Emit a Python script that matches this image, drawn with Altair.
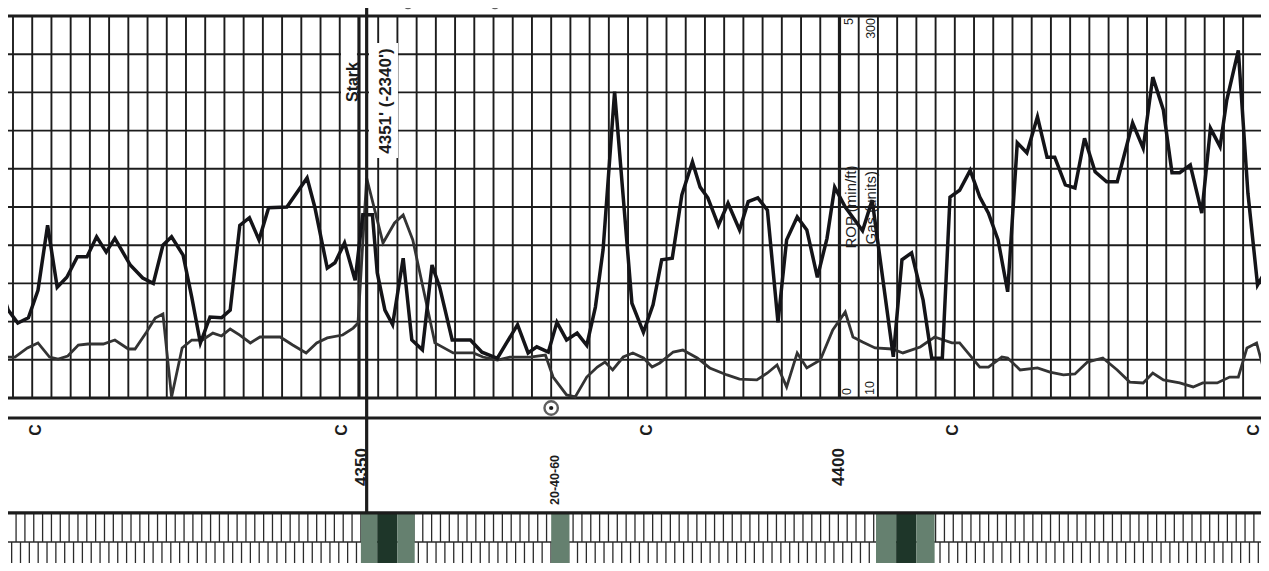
import altair as alt
import pandas as pd
import numpy as np

rop_depth = [4312.6, 4313.5, 4314.5, 4315.6, 4316.6, 4317.6, 4318.6, 4319.6, 4320.7, 4321.7,
             4322.7, 4323.7, 4324.6, 4326.2, 4327.5, 4328.6, 4329.6, 4330.5, 4331.7, 4332.6,
             4333.5, 4334.5, 4335.7, 4336.6, 4337.6, 4338.6, 4339.6, 4340.6, 4342.5, 4344.6,
             4345.4, 4346.7, 4347.5, 4348.5, 4349.6, 4350.4, 4351.4, 4351.9, 4352.7, 4353.5,
             4354.6, 4355.5, 4356.6, 4357.6, 4358.4, 4359.7, 4361.6, 4362.8, 4364.4, 4366.5,
             4367.6, 4368.5, 4369.7, 4370.6, 4371.6, 4372.7, 4373.7, 4374.6, 4375.4, 4376.6,
             4378.4, 4379.6, 4380.6, 4381.5, 4382.6, 4383.6, 4384.7, 4385.5, 4386.3, 4387.4,
             4388.4, 4389.6, 4390.5, 4391.5, 4392.5, 4393.6, 4394.5, 4395.6, 4396.6, 4397.7,
             4398.7, 4399.5, 4400.6, 4402.4, 4403.4, 4405.6, 4406.5, 4407.5, 4408.7, 4409.6,
             4410.7, 4411.5, 4412.5, 4413.6, 4414.6, 4415.5, 4416.5, 4417.5, 4418.5, 4419.5,
             4420.6, 4421.6, 4422.4, 4423.5, 4424.5, 4425.5, 4426.6, 4427.8, 4428.9, 4430.5,
             4431.6, 4432.6, 4433.7, 4434.6, 4435.4, 4436.5, 4437.7, 4438.6, 4439.6, 4440.3,
             4441.5, 4442.5, 4443.5, 4444.7]
rop_min_ft = [1.50, 1.15, 0.98, 1.05, 1.41, 2.26, 1.45, 1.58, 1.85, 1.85,
              2.11, 1.91, 2.09, 1.74, 1.57, 1.50, 2.00, 2.11, 1.87, 1.32,
              0.72, 1.06, 1.05, 1.15, 2.26, 2.36, 2.07, 2.49, 2.50, 2.88,
              2.50, 1.70, 1.77, 2.03, 1.54, 2.40, 2.40, 1.64, 1.15, 0.96,
              1.83, 0.76, 0.63, 1.74, 1.45, 0.76, 0.76, 0.60, 0.52, 0.96,
              0.59, 0.67, 0.60, 0.99, 0.76, 0.85, 0.69, 1.19, 1.94, 4.01,
              1.24, 0.86, 1.22, 1.81, 1.83, 2.66, 3.09, 2.76, 2.62, 2.26,
              2.55, 2.20, 2.57, 2.62, 2.46, 0.99, 2.07, 2.37, 2.20, 1.58,
              2.09, 2.76, 2.50, 2.19, 2.59, 0.54, 1.81, 1.90, 1.28, 0.52,
              0.52, 2.63, 2.72, 2.98, 2.63, 2.42, 2.07, 1.39, 3.34, 3.21,
              3.68, 3.15, 3.15, 2.79, 2.75, 3.40, 2.96, 2.83, 2.83, 3.60,
              3.27, 4.20, 3.77, 2.95, 2.95, 3.05, 2.42, 3.53, 3.29, 3.90,
              4.55, 2.68, 1.48, 1.74]

gas_depth = [4312.6, 4314.2, 4315.5, 4316.6, 4317.8, 4318.7, 4319.7, 4320.8, 4321.8, 4323.4,
             4324.6, 4326.0, 4326.7, 4327.9, 4328.8, 4329.6, 4330.5, 4331.6, 4332.6, 4333.7,
             4334.8, 4335.7, 4336.6, 4337.6, 4338.7, 4339.7, 4341.8, 4343.1, 4344.5, 4345.6,
             4346.7, 4348.3, 4349.4, 4349.9, 4350.8, 4352.5, 4353.7, 4354.6, 4355.6, 4357.1,
             4357.9, 4359.8, 4361.9, 4362.9, 4364.4, 4365.7, 4367.8, 4369.4, 4370.2, 4371.6,
             4372.5, 4373.7, 4374.8, 4375.6, 4376.4, 4377.5, 4378.5, 4379.6, 4380.5, 4381.3,
             4382.7, 4383.7, 4385.2, 4386.5, 4388.3, 4389.6, 4391.4, 4392.5, 4393.5, 4394.5,
             4395.6, 4396.6, 4398.0, 4399.3, 4400.6, 4401.4, 4402.4, 4403.7, 4405.5, 4406.6,
             4408.4, 4409.9, 4411.7, 4412.5, 4414.6, 4415.5, 4416.9, 4417.5, 4418.8, 4420.6,
             4421.9, 4423.3, 4424.5, 4425.8, 4427.4, 4428.9, 4430.2, 4431.6, 4432.6, 4433.7,
             4435.4, 4436.8, 4437.8, 4439.3, 4440.6, 4441.5, 4442.4, 4443.4, 4444.5]
gas_units = [41.1, 41.1, 48.0, 51.8, 41.1, 39.6, 41.9, 50.2, 51.0, 51.0,
             54.0, 47.2, 47.2, 60.1, 70.7, 73.8, 10.8, 48.0, 54.0, 54.0,
             59.3, 57.1, 62.4, 57.8, 51.8, 56.3, 56.3, 50.2, 44.2, 51.8,
             55.6, 57.8, 63.1, 66.9, 177.0, 127.7, 142.9, 148.9, 130.0, 79.1,
             51.8, 44.2, 44.2, 41.1, 38.8, 41.1, 41.1, 42.6, 25.9, 12.3,
             10.8, 25.9, 33.5, 37.3, 31.3, 41.1, 44.2, 40.4, 33.5, 36.6,
             44.9, 46.4, 40.4, 32.8, 27.5, 24.4, 23.7, 29.0, 35.1, 18.4,
             44.2, 32.8, 38.8, 61.6, 75.3, 56.3, 52.5, 48.0, 47.2, 44.2,
             48.7, 56.3, 51.8, 51.8, 33.5, 33.5, 41.1, 40.4, 31.3, 32.8,
             29.7, 27.5, 28.2, 37.3, 40.4, 31.3, 22.1, 21.4, 29.0, 23.7,
             21.4, 18.4, 21.4, 21.4, 25.9, 25.9, 48.0, 51.8, 22.1]

# lithology colour bands (depth intervals)
band_top = [4350.2, 4351.9, 4354.0, 4370.0, 4403.8, 4405.9, 4408.0, 4444.1]
band_base = [4351.9, 4354.0, 4355.8, 4371.9, 4405.9, 4408.0, 4409.9, 4445.5]
band_tone = ["light", "dark", "light", "light", "light", "dark", "light", "dark"]

depth_labels = ["4350", "4400"]
depth_label_at = [4350.3, 4399.9]
c_label_at = [4316.4, 4348.2, 4380.0, 4411.8, 4443.1]
stark_depth = 4350.8
show_top_at = [4355.1, 4364.15]
show_bottom_at = [4370.0]

# ---------------- layout in track units (ROP min/ft scale) ----------------
X0, X1 = 4313.48, 4443.86
Y0, Y1 = -2.160, 5.105
TRACK_BOT, TRACK_TOP = 0.0, 5.0
HDR_LINE = -0.262
LITH_TOP, LITH_MID, LITH_BOT = -1.505, -1.885, -2.40

xs = alt.Scale(domain=[X0, X1], nice=False, zero=False)
ys = alt.Scale(domain=[Y0, Y1], nice=False, zero=False)
FONT = "Liberation Sans"
INK = "#1c1c1c"


def X(f):
    return alt.X(f, type="quantitative", scale=xs, axis=None)


def Y(f):
    return alt.Y(f, type="quantitative", scale=ys, axis=None)


def vrules(df, w, color=INK):
    return alt.Chart(df).mark_rule(strokeWidth=w, color=color, clip=True).encode(
        x=X("d"), y=Y("y0"), y2="y1")


def hrules(df, w, color=INK):
    return alt.Chart(df).mark_rule(strokeWidth=w, color=color, clip=True).encode(
        y=Y("v"), x=X("x0"), x2="x1")


grid_d = [d for d in range(4314, 4446, 2) if d not in (4350, 4400)]
vgrid = vrules(pd.DataFrame({"d": grid_d, "y0": TRACK_BOT, "y1": TRACK_TOP}), 1.9)
vmajor = vrules(pd.DataFrame({"d": [4350, 4400], "y0": TRACK_BOT, "y1": TRACK_TOP}), 3.2)
hgrid = hrules(pd.DataFrame({"v": [0.5 * i for i in range(1, 10)], "x0": X0 - 1, "x1": X1 + 1}), 1.9)
hborder = hrules(pd.DataFrame({"v": [TRACK_BOT, TRACK_TOP, HDR_LINE, LITH_TOP], "x0": X0 - 1, "x1": X1 + 1}), 3.2)

# limestone brick pattern
w = 0.92
top_j = np.arange(X0 - 1, X1 + 1, w)
pat_top = vrules(pd.DataFrame({"d": top_j, "y0": LITH_MID, "y1": LITH_TOP}), 1.3, "#2a2a2a")
pat_bot = vrules(pd.DataFrame({"d": top_j + w / 2, "y0": LITH_BOT, "y1": LITH_MID}), 1.3, "#2a2a2a")
pat_mid = hrules(pd.DataFrame({"v": [LITH_MID], "x0": X0 - 1, "x1": X1 + 1}), 1.3, "#2a2a2a")

bands = alt.Chart(pd.DataFrame({"a": band_top, "b": band_base, "tone": band_tone,
                                "y0": LITH_BOT, "y1": LITH_TOP})).mark_rect(clip=True).encode(
    x=X("a"), x2="b", y=Y("y0"), y2="y1",
    color=alt.Color("tone:N", scale=alt.Scale(domain=["light", "dark"], range=["#65806f", "#1e3629"]), legend=None))

# white boxes behind formation text
boxes = alt.Chart(pd.DataFrame({"a": [4348.13, 4351.04], "b": [4349.79, 4354.06],
                                "y0": [3.743, 3.141], "y1": [4.555, 4.647]})).mark_rect(color="white", clip=True).encode(
    x=X("a"), x2="b", y=Y("y0"), y2="y1")

stark = vrules(pd.DataFrame({"d": [stark_depth], "y0": LITH_TOP, "y1": Y1 + 1}), 3.2)

gas_line = alt.Chart(pd.DataFrame({"depth": gas_depth, "gas": gas_units})).transform_calculate(
    track="(datum.gas - 10) / 290 * 5").mark_line(color="#333333", strokeWidth=2.8, clip=True).encode(
    x=X("depth"), y=Y("track"), order="depth:Q")
rop_line = alt.Chart(pd.DataFrame({"depth": rop_depth, "rop": rop_min_ft})).mark_line(
    color="#141418", strokeWidth=3.5, clip=True).encode(x=X("depth"), y=Y("rop"), order="depth:Q")


def texts(df, bold=True, align="center", color=INK):
    return alt.Chart(df).mark_text(angle=270, align=align, baseline="middle", font=FONT,
                                   fontWeight="bold" if bold else "normal", color=color, clip=False).encode(
        x=X("d"), y=Y("y"), text="t:N", size=alt.Size("fs:Q", scale=None))


t_form = texts(pd.DataFrame({"t": ["Stark", "4351' (-2340')"], "d": [4349.38, 4352.81],
                             "y": [4.136, 3.887], "fs": [16, 17]}))
t_depth = texts(pd.DataFrame({"t": depth_labels + ["20-40-60"], "d": depth_label_at + [4370.4],
                              "y": [-0.903, -0.903, -1.073], "fs": [17, 17, 12.5]}))
t_c = texts(pd.DataFrame({"t": ["C"] * len(c_label_at), "d": c_label_at, "y": -0.419, "fs": 16}))
t_curves = texts(pd.DataFrame({"t": ["ROP (min/ft)", "Gas (units)"], "d": [4401.2, 4403.3],
                               "y": [2.50, 2.49], "fs": [15, 15]}), bold=False, color="#1e1e1e")
t_scale_top = texts(pd.DataFrame({"t": ["5", "300"], "d": [4401.0, 4403.3], "y": 4.974, "fs": 12.5}),
                    bold=False, align="right")
t_scale_bot = texts(pd.DataFrame({"t": ["0", "10"], "d": [4400.8, 4403.2], "y": 0.039, "fs": 12.5}),
                    bold=False, align="left")

sym_top = alt.Chart(pd.DataFrame({"d": show_top_at, "y": 5.157})).mark_point(
    shape="circle", filled=True, fill="white", stroke=INK, strokeWidth=2, size=70, clip=False).encode(
    x=X("d"), y=Y("y"))
sym_top_bar = alt.Chart(pd.DataFrame({"d": show_top_at, "y": 5.157})).mark_point(
    shape="M-1,0L1,0", stroke=INK, strokeWidth=2, size=70, clip=False).encode(x=X("d"), y=Y("y"))
sym_bot = alt.Chart(pd.DataFrame({"d": show_bottom_at, "y": -0.131})).mark_point(
    shape="circle", filled=True, fill="white", stroke=INK, strokeWidth=2.4, size=180).encode(
    x=X("d"), y=Y("y"))
sym_bot_dot = alt.Chart(pd.DataFrame({"d": show_bottom_at, "y": -0.131})).mark_point(
    shape="circle", filled=True, color=INK, size=18, opacity=1).encode(x=X("d"), y=Y("y"))

chart = alt.layer(
    pat_top, pat_bot, pat_mid, bands,
    vgrid, hgrid, vmajor, hborder,
    boxes, gas_line, rop_line, stark,
    t_form, t_depth, t_c, t_curves, t_scale_top, t_scale_bot,
    sym_top, sym_top_bar, sym_bot, sym_bot_dot,
).properties(
    width=1253, height=555, padding=0, background="white",
    autosize=alt.AutoSizeParams(type="none"),
).configure_view(stroke=None)

chart.save("out.html", embed_options={"renderer": "svg", "actions": False})
